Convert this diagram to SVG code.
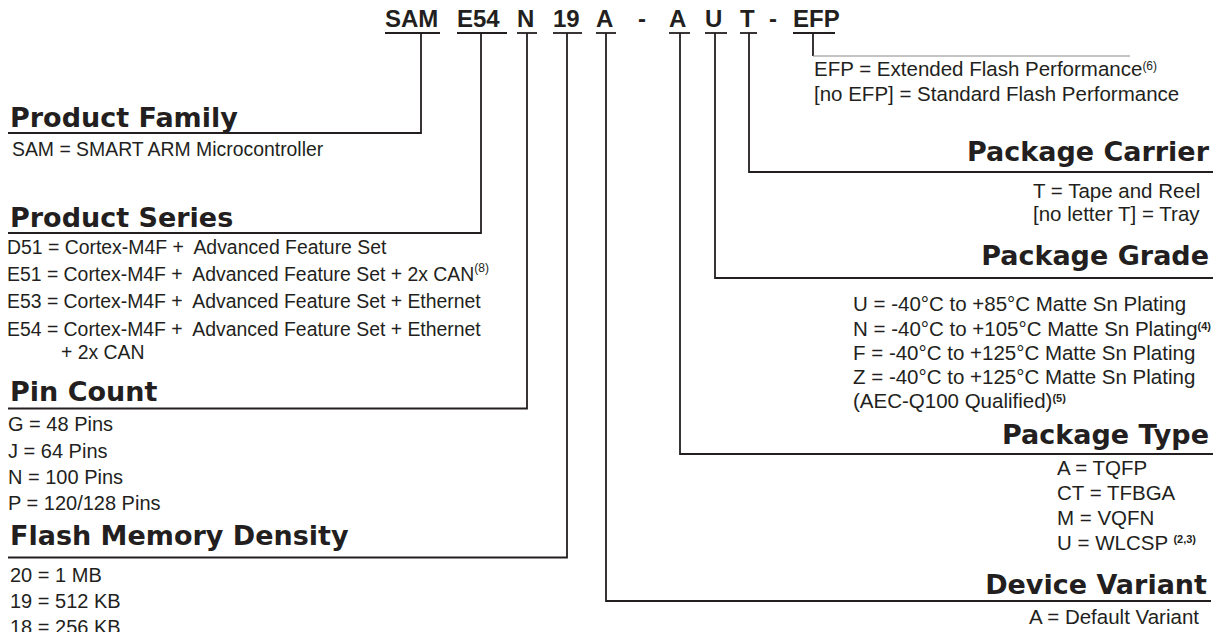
<svg xmlns="http://www.w3.org/2000/svg" width="1232" height="632" viewBox="0 0 1232 632">
<style>
.pn{font-family:"Liberation Sans",Arial,sans-serif;font-weight:bold;font-size:24px;fill:#231f20}
.hd{font-family:"DejaVu Sans",sans-serif;font-weight:bold;font-size:27px;fill:#231f20}
.op{font-family:"Liberation Sans",Arial,sans-serif;font-size:20px;fill:#231f20}
.ops{font-family:"Liberation Sans",Arial,sans-serif;font-size:19.4px;fill:#231f20}
.opr{font-family:"Liberation Sans",Arial,sans-serif;font-size:20.5px;fill:#231f20}
.sup{font-size:12px}
.supb{font-size:11px;font-weight:bold}
.ln{fill:none;stroke:#231f20;stroke-width:1.8}
.ul{stroke:#231f20;stroke-width:1.8}
.thin{fill:none;stroke:#8a8a8a;stroke-width:1.2}
.end{text-anchor:end}
</style>
<rect width="1232" height="632" fill="#ffffff"/>

<g id="part-number">
  <text class="pn" x="385" y="27">SAM</text>
  <text class="pn" x="457" y="27">E54</text>
  <text class="pn" x="517" y="27">N</text>
  <text class="pn" x="553" y="27">19</text>
  <text class="pn" x="596" y="27">A</text>
  <text class="pn" x="638" y="27">-</text>
  <text class="pn" x="669" y="27">A</text>
  <text class="pn" x="705" y="27">U</text>
  <text class="pn" x="740" y="27">T</text>
  <text class="pn" x="769" y="27">-</text>
  <text class="pn" x="793" y="27">EFP</text>
  <line class="ul" x1="385" y1="33" x2="440" y2="33"/>
  <line class="ul" x1="457" y1="33" x2="507" y2="33"/>
  <line class="ul" x1="517" y1="33" x2="537" y2="33"/>
  <line class="ul" x1="553" y1="33" x2="582" y2="33"/>
  <line class="ul" x1="596" y1="33" x2="616" y2="33"/>
  <line class="ul" x1="669" y1="33" x2="690" y2="33"/>
  <line class="ul" x1="705" y1="33" x2="727" y2="33"/>
  <line class="ul" x1="740" y1="33" x2="757" y2="33"/>
  <line class="ul" x1="793" y1="33" x2="835" y2="33"/>
</g>

<g id="connectors">
  <polyline class="ln" points="421,33 421,133 8,133"/>
  <polyline class="ln" points="481,33 481,233 8,233"/>
  <polyline class="ln" points="527,33 527,408.5 8,408.5"/>
  <polyline class="ln" points="567,33 567,557.5 8,557.5"/>
  <polyline class="ln" points="606,33 606,601 1211,601"/>
  <polyline class="ln" points="680,33 680,454 1213,454"/>
  <polyline class="ln" points="715,33 715,278 1213,278"/>
  <polyline class="ln" points="749,33 749,172 1213,172"/>
  <line class="ln" x1="813" y1="33" x2="813" y2="56"/>
  <line class="thin" x1="813" y1="56" x2="1130" y2="56"/>
</g>

<g id="product-family">
  <text class="hd" x="10" y="127">Product Family</text>
  <text class="ops" x="12" y="155.5">SAM = SMART ARM Microcontroller</text>
</g>

<g id="product-series">
  <text class="hd" x="10" y="227">Product Series</text>
  <text class="ops" x="7" y="254" xml:space="preserve">D51 = Cortex-M4F +  Advanced Feature Set</text>
  <text class="ops" x="7" y="281" xml:space="preserve">E51 = Cortex-M4F +  Advanced Feature Set + 2x CAN<tspan class="sup" dy="-9">(8)</tspan></text>
  <text class="ops" x="7" y="308" xml:space="preserve">E53 = Cortex-M4F +  Advanced Feature Set + Ethernet</text>
  <text class="ops" x="7" y="336" xml:space="preserve">E54 = Cortex-M4F +  Advanced Feature Set + Ethernet</text>
  <text class="ops" x="61" y="359">+ 2x CAN</text>
</g>

<g id="pin-count">
  <text class="hd" x="10" y="401">Pin Count</text>
  <text class="op" x="8" y="431">G = 48 Pins</text>
  <text class="op" x="8" y="457.5">J = 64 Pins</text>
  <text class="op" x="8" y="484">N = 100 Pins</text>
  <text class="op" x="8" y="510">P = 120/128 Pins</text>
</g>

<g id="flash-memory-density">
  <text class="hd" x="10" y="545">Flash Memory Density</text>
  <text class="op" x="10" y="581.5">20 = 1 MB</text>
  <text class="op" x="10" y="607.5">19 = 512 KB</text>
  <text class="op" x="10" y="633.5">18 = 256 KB</text>
</g>

<g id="flash-performance">
  <text class="opr" x="814" y="76">EFP = Extended Flash Performance<tspan class="sup" dy="-6">(6)</tspan></text>
  <text class="opr" x="814" y="101">[no EFP] = Standard Flash Performance</text>
</g>

<g id="package-carrier">
  <text class="hd end" x="1209" y="161">Package Carrier</text>
  <text class="opr" x="1033" y="197.5">T = Tape and Reel</text>
  <text class="opr" x="1033" y="221">[no letter T] = Tray</text>
</g>

<g id="package-grade">
  <text class="hd end" x="1209" y="264.5">Package Grade</text>
  <text class="opr" x="853" y="311">U = -40°C to +85°C Matte Sn Plating</text>
  <text class="opr" x="853" y="336">N = -40°C to +105°C Matte Sn Plating<tspan class="supb" dy="-6">(4)</tspan></text>
  <text class="opr" x="853" y="360">F = -40°C to +125°C Matte Sn Plating</text>
  <text class="opr" x="853" y="384">Z = -40°C to +125°C Matte Sn Plating</text>
  <text class="opr" x="853" y="408">(AEC-Q100 Qualified)<tspan class="supb" dy="-6">(5)</tspan></text>
</g>

<g id="package-type">
  <text class="hd end" x="1209" y="444">Package Type</text>
  <text class="opr" x="1057" y="475">A = TQFP</text>
  <text class="opr" x="1057" y="500">CT = TFBGA</text>
  <text class="opr" x="1057" y="525">M = VQFN</text>
  <text class="opr" x="1057" y="550" xml:space="preserve">U = WLCSP <tspan class="supb" dy="-7">(2,3)</tspan></text>
</g>

<g id="device-variant">
  <text class="hd end" x="1207" y="594">Device Variant</text>
  <text class="opr end" x="1199" y="624">A = Default Variant</text>
</g>
</svg>
